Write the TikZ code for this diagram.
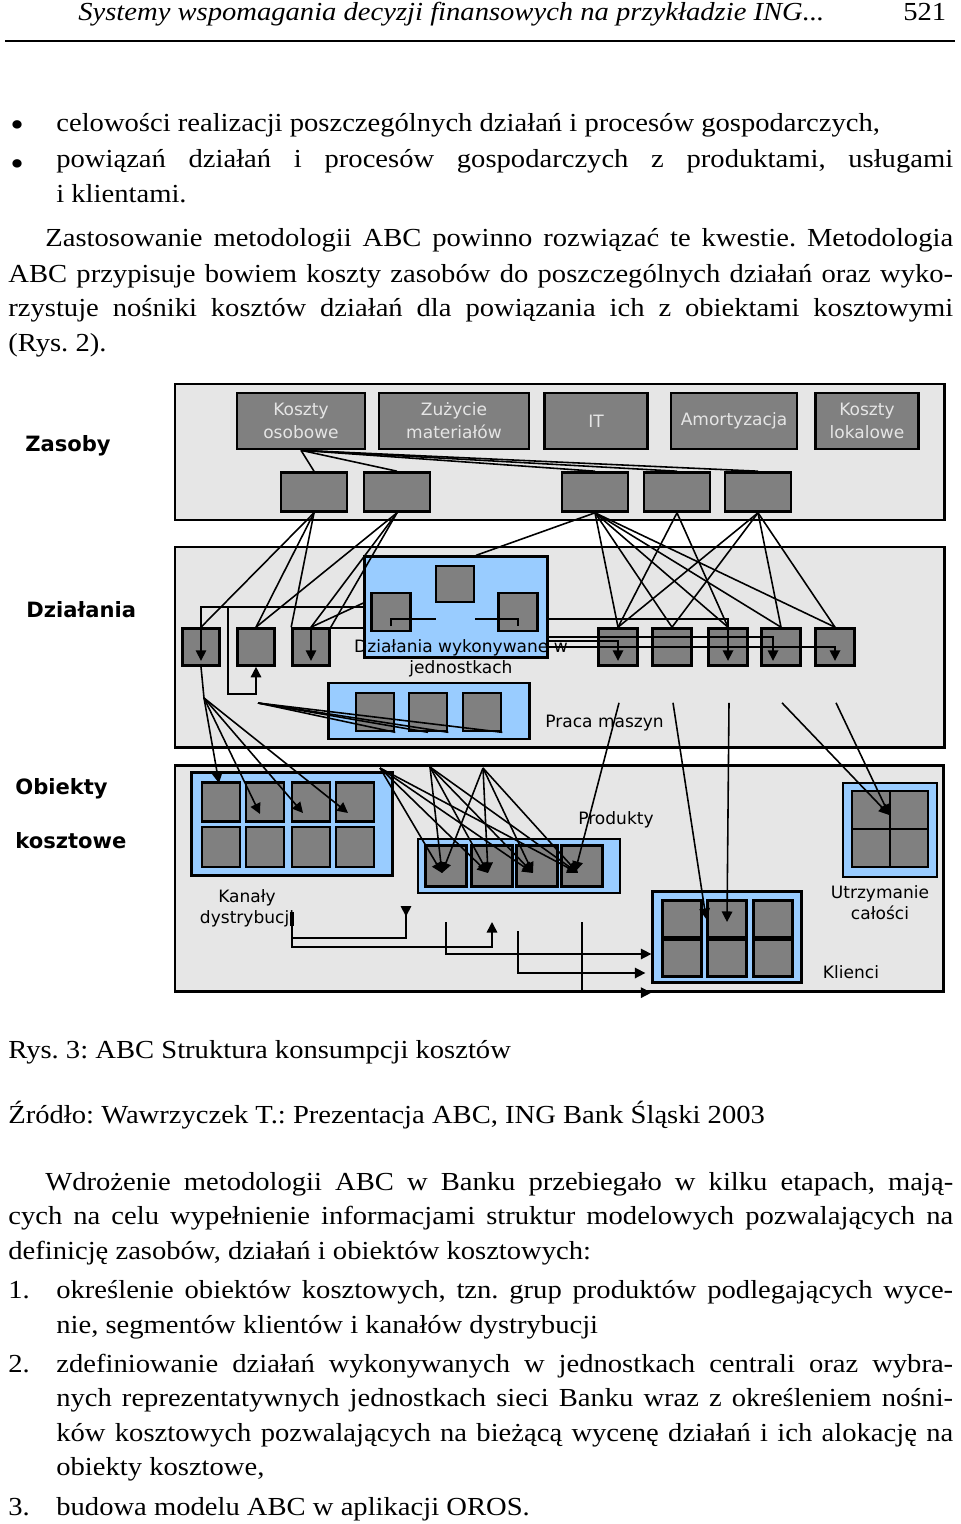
\documentclass[tikz,border=0pt]{standalone}
\usepackage{fontspec}
\setmainfont{Liberation Serif}[FakeStretch=1.1]
\newfontfamily\diafont{DejaVu Sans}
\usetikzlibrary{arrows.meta,calc}
\definecolor{panelgray}{HTML}{E6E6E6}
\definecolor{boxgray}{HTML}{808080}
\definecolor{unitblue}{HTML}{99CCFF}
\frenchspacing
\tikzset{
  txt/.style={anchor=base west, inner sep=0pt, font=\fontsize{14.8}{20}\selectfont},
  sz/.style 2 args={minimum width=#1*0.02cm, minimum height=#2*0.02cm},
  panel/.style={draw, line width=1.7pt, fill=panelgray},
  res/.style={draw, line width=1.5pt, fill=boxgray, text=white!90!black, align=center, inner sep=0pt, font=\diafont\fontsize{9.7}{13}\selectfont},
  dbox/.style={draw, line width=1.5pt, fill=boxgray, inner sep=0pt},
  bbox/.style={draw, line width=1.3pt, fill=unitblue, inner sep=0pt},
  lab/.style={font=\diafont\fontsize{9.7}{12}\selectfont, align=center, inner sep=0pt},
  side/.style={anchor=west, inner sep=0pt, font=\diafont\bfseries\fontsize{12}{14}\selectfont},
  con/.style={line width=0.9pt},
}
\begin{document}
\begin{tikzpicture}[x=0.02cm, y=-0.02cm, >={Triangle[length=6pt,width=6pt]}, line join=miter]
\useasboundingbox (0,0) rectangle (960,1524);
% naglowek strony
\node[txt, font=\fontsize{14.8}{20}\selectfont\itshape] (hdr) at (78,21) {Systemy wspomagania decyzji finansowych na przykładzie ING...};
\node[txt] (pg) at (903,21) {521};
\draw[line width=0.9pt] (5,41) -- (955,41);
% tekst nad rysunkiem
\node[txt, font=\fontsize{20}{20}\selectfont] (bul1) at (10,137) {•};
\node[txt] (ln1) at (56,132) {celowości realizacji poszczególnych działań i procesów gospodarczych,};
\node[txt, font=\fontsize{20}{20}\selectfont] (bul2) at (10,176) {•};
\node[txt] (ln2) at (56,168) {\makebox[17.94cm][s]{powiązań działań i procesów gospodarczych z produktami, usługami}};
\node[txt] (ln3) at (56,203) {i klientami.};
\node[txt] (ln4) at (45,247) {\makebox[18.16cm][s]{Zastosowanie metodologii ABC powinno rozwiązać te kwestie. Metodologia}};
\node[txt] (ln5) at (8,282) {\makebox[18.9cm][s]{ABC przypisuje bowiem koszty zasobów do poszczególnych działań oraz wyko-}};
\node[txt] (ln6) at (8,316) {\makebox[18.9cm][s]{rzystuje nośniki kosztów działań dla powiązania ich z obiektami kosztowymi}};
\node[txt] (ln7) at (8,351) {(Rys. 2).};
% Zasoby
\draw[panel] (175,384) rectangle (944,520);
\node[side] (zas) at (25,446) {Zasoby};
\node[res, sz={128}{56}] (ko) at (301,421) {Koszty\\osobowe};
\node[res, sz={150}{56}] (zm) at (454,421) {Zużycie\\materiałów};
\node[res, sz={103}{56}] (it) at (596,421) {IT};
\node[res, sz={126}{56}] (am) at (734,421) {Amortyzacja};
\node[res, sz={103}{56}] (kl) at (867,421) {Koszty\\lokalowe};
\foreach \n/\x in {1/314,2/397,3/595,4/677,5/758}
  \node[dbox, sz={66}{39}] (r\n) at (\x,492) {};
% Dzialania
\draw[panel] (175,547) rectangle (944,747);
\node[side] (dzi) at (26,610) {Działania};
\node[bbox, sz={183}{101}] (dwj) at (456,607) {};
\node[dbox, sz={38}{36}] (u1) at (455,584) {};
\node[dbox, sz={39}{38}] (u2) at (391,612) {};
\node[dbox, sz={39}{38}] (u3) at (518,612) {};
\foreach \n/\x in {1/201,2/256,3/311}
  \node[dbox, sz={37}{37}] (dl\n) at (\x,647) {};
\foreach \n/\x in {1/618,2/672,3/728,4/781,5/835}
  \node[dbox, sz={39}{37}] (dr\n) at (\x,647) {};
\node[bbox, sz={201}{56}] (pm) at (429,711) {};
\foreach \n/\x in {1/375,2/428,3/482}
  \node[dbox, sz={38}{38}] (pm\n) at (\x,712) {};
\node[lab, anchor=west] (pml) at (545,723) {Praca maszyn};
% Obiekty kosztowe
\draw[panel] (175,765) rectangle (943,991);
\node[side] (obi) at (15,789) {Obiekty};
\node[side] (obi2) at (15,841) {kosztowe};
\node[bbox, sz={201}{103}] (kan) at (292,824) {};
\foreach \c/\x in {1/221,2/265,3/311,4/355} {
  \node[dbox, sz={38}{39}] (k1\c) at (\x,802) {};
  \node[dbox, sz={38}{40}] (k2\c) at (\x,847) {};
}
\node[lab] (kanl) at (247,908) {Kanały\\dystrybucji};
\node[bbox, sz={202}{54}] (prod) at (519,866) {};
\foreach \n/\x in {1/446,2/492,3/537,4/582}
  \node[dbox, sz={41}{41}] (p\n) at (\x,866) {};
\node[lab] (prodl) at (616,820) {Produkty};
\node[bbox, sz={149}{91}] (kli) at (727,937) {};
\foreach \c/\x in {1/682,2/727,3/773} {
  \node[dbox, sz={39}{37}] (c1\c) at (\x,919) {};
  \node[dbox, sz={39}{37}] (c2\c) at (\x,958) {};
}
\node[lab] (klil) at (851,972) {Klienci};
\node[bbox, sz={94}{94}] (ut) at (890,830) {};
\node[dbox, sz={38}{38}] (t11) at (871,810) {};
\node[dbox, sz={38}{38}] (t12) at (909,810) {};
\node[dbox, sz={38}{38}] (t21) at (871,848) {};
\node[dbox, sz={38}{38}] (t22) at (909,848) {};
\node[lab] (utl) at (880,903) {Utrzymanie\\całości};
% zasoby -> zasoby
\foreach \n in {1,...,5}
  \draw[con] (ko.south) -- (r\n.north);
% zasoby -> dzialania
\draw[con] (r1.south) -- (dl1.north);
\draw[con] (r1.south) -- (dl2.north);
\draw[con] (r1.south) -- (dl3.north west);
\draw[con] (r2.south) -- (dl2.north);
\draw[con] (r2.south) -- (dl3.north);
\draw[con] (r2.south) -- (dl3.north east);
\draw[con] (r3.south) -- ($(dwj.north)+(20,0)$);
\foreach \n in {1,...,5}
  \draw[con] (r3.south) -- (dr\n.north);
\draw[con] (r4.south) -- (dr1.north);
\draw[con] (r4.south) -- (dr3.north);
\foreach \n in {1,2,4,5}
  \draw[con] (r5.south) -- (dr\n.north);
% dzialania w jednostkach
\draw[con] ($(u2.center)+(0,14)$) |- ($(u2.east)+(24,7)$);
\draw[con] ($(u3.west)+(-22,7)$) -| ($(u3.center)+(0,14)$);
\coordinate (j1) at (228,607);
\draw[con,->] (dwj.west) -| ($(dl1.south)+(0,-6)$);
\draw[con,->] (j1) |- ($(dl2.south)+(0,27)$) -- (dl2.south);
\draw[con,->] ($(dwj.west)+(0,21)$) -| ($(dl3.south)+(0,-6)$);
\draw[con] ($(dwj.west)+(0,-4)$) -- (dl3.north);
\draw[con,->] ($(dwj.east)+(0,12)$) -| ($(dr3.south)+(0,-6)$);
\draw[con,->] ($(dwj.east)+(0,30)$) -| ($(dr4.south)+(-8,-6)$);
\draw[con,->] ($(dwj.east)+(0,34)$) -| ($(dr1.south)+(0,-6)$);
\draw[con,->] ($(dwj.east)+(0,40)$) -| ($(dr5.south)+(0,-6)$);
\node[lab] (dwjl) at (461,658) {Działania wykonywane w\\jednostkach};
% praca maszyn
\coordinate (pmsrc) at (258,703);
\draw[con] (pmsrc) -- (pm1.south east);
\draw[con] (pmsrc) -- (pm2.south);
\draw[con] (pmsrc) -- (pm2.south east);
\draw[con] (pmsrc) -- (pm3.south east);
% dzialania -> obiekty
\coordinate (dl1out) at (204,698);
\draw[con] (dl1.south) -- (dl1out);
\draw[con,->] (dl1out) -- ($(k11.north)+(-2,2)$);
\draw[con,->] (dl1out) -- ($(k12.center)+(-5,12)$);
\draw[con,->] (dl1out) -- ($(k13.center)+(-8,11)$);
\draw[con,->] (dl1out) -- ($(k14.center)+(-7,11)$);
\coordinate (o1) at (380,768);
\coordinate (o2) at (430,767);
\coordinate (o3) at (483,768);
\foreach \s in {o1,o2,o3}
  \foreach \n in {1,...,4}
    \draw[con,->] (\s) -- ($(p\n.center)+(-4,7)$);
\foreach \n in {1,...,5}
  \coordinate (drout\n) at ($(dr\n.south)+(1,36)$);
\draw[con,->] (drout1) -- ($(p4.center)+(-7,6)$);
\draw[con,->] (drout2) -- (c12.west);
\draw[con,->] (drout3) -- ($(c12.center)+(0,3)$);
\draw[con,->] (drout4) -- ($(t11.east)+(-2,5)$);
\draw[con,->] (drout5) -- ($(t11.east)+(-2,5)$);
% polaczenia miedzy obiektami
\coordinate (q1) at (292,912);
\coordinate (q2) at (406,906);
\coordinate (q3) at (492,922);
\coordinate (q4) at (446,922);
\coordinate (q5) at (518,931);
\coordinate (q6) at (582,922);
\draw[line width=2pt] (q1) -- ++(0,14);
\draw[con,-{Triangle[reversed,length=6pt,width=6pt]}] (q1) |- ($(q2)+(0,32)$) -- (q2);
\draw[con,->] (q1) |- ($(q3)+(0,25)$) -- (q3);
\draw[line width=1.5pt] (q4) -- ++(0,33);
\draw[con,->] (q4) |- ($(kli.west)+(0,17)$);
\draw[con,->] (q5) |- ($(kli.west)+(-6,36)$);
\draw[con,->] (q6) |- ($(kli.south west)+(0,9)$);
% tekst pod rysunkiem
\node[txt] (cap) at (8,1058) {Rys. 3: ABC Struktura konsumpcji kosztów};
\node[txt] (src) at (8,1123) {Źródło: Wawrzyczek T.: Prezentacja ABC, ING Bank Śląski 2003};
\node[txt] (ln8) at (45,1190) {\makebox[18.16cm][s]{Wdrożenie metodologii ABC w Banku przebiegało w kilku etapach, mają-}};
\node[txt] (ln9) at (8,1224) {\makebox[18.9cm][s]{cych na celu wypełnienie informacjami struktur modelowych pozwalających na}};
\node[txt] (ln10) at (8,1259) {definicję zasobów, działań i obiektów kosztowych:};
\node[txt] (num1) at (8,1298) {1.};
\node[txt] (ln11) at (56,1298) {\makebox[17.94cm][s]{określenie obiektów kosztowych, tzn. grup produktów podlegających wyce-}};
\node[txt] (ln12) at (56,1333) {nie, segmentów klientów i kanałów dystrybucji};
\node[txt] (num2) at (8,1372) {2.};
\node[txt] (ln13) at (56,1372) {\makebox[17.94cm][s]{zdefiniowanie działań wykonywanych w jednostkach centrali oraz wybra-}};
\node[txt] (ln14) at (56,1406) {\makebox[17.94cm][s]{nych reprezentatywnych jednostkach sieci Banku wraz z określeniem nośni-}};
\node[txt] (ln15) at (56,1441) {\makebox[17.94cm][s]{ków kosztowych pozwalających na bieżącą wycenę działań i ich alokację na}};
\node[txt] (ln16) at (56,1475) {obiekty kosztowe,};
\node[txt] (num3) at (8,1515) {3.};
\node[txt] (ln17) at (56,1515) {budowa modelu ABC w aplikacji OROS.};
\end{tikzpicture}
\end{document}
